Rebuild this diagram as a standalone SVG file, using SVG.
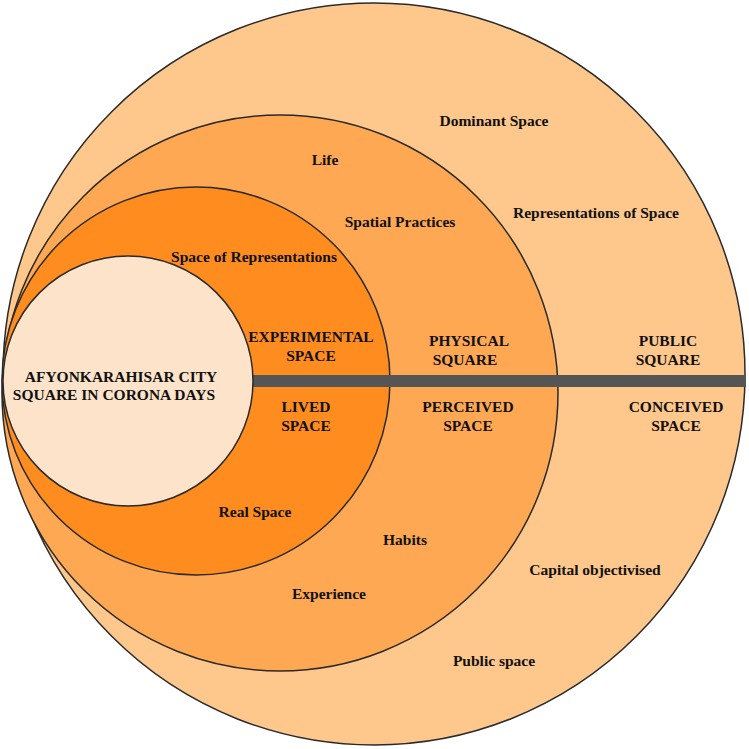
<svg xmlns="http://www.w3.org/2000/svg" width="749" height="749" viewBox="0 0 749 749">
<style>
.c{stroke:#2a2a2a;stroke-width:1.5}
text{font-family:"Liberation Serif","Times New Roman",serif;font-weight:bold;font-size:15.5px;fill:#111;text-anchor:middle}
</style>
<rect width="749" height="749" fill="#ffffff"/>
<g id="outer"><circle class="c" cx="374" cy="374" r="371" fill="#FEC78C"/></g>
<g id="perceived"><circle class="c" cx="280" cy="393" r="278" fill="#FEA853"/></g>
<g id="lived"><circle class="c" cx="196" cy="381" r="194" fill="#FE8C1F"/></g>
<g id="connectors"><rect x="253" y="375" width="493" height="12" fill="#555555"/></g>
<g id="center"><circle class="c" cx="128" cy="381" r="125" fill="#FDE3C9"/></g>
<g id="labels">
<text x="494" y="126">Dominant Space</text>
<text x="325" y="165">Life</text>
<text x="596" y="218">Representations of Space</text>
<text x="400" y="227">Spatial Practices</text>
<text x="254" y="262">Space of Representations</text>
<text x="311" y="342">EXPERIMENTAL</text>
<text x="311" y="361">SPACE</text>
<text x="469" y="346">PHYSICAL</text>
<text x="465" y="365">SQUARE</text>
<text x="668" y="346">PUBLIC</text>
<text x="668" y="365">SQUARE</text>
<text x="121" y="382">AFYONKARAHISAR CITY</text>
<text x="114" y="400">SQUARE IN CORONA DAYS</text>
<text x="306" y="412">LIVED</text>
<text x="306" y="431">SPACE</text>
<text x="468" y="412">PERCEIVED</text>
<text x="468" y="431">SPACE</text>
<text x="676" y="412">CONCEIVED</text>
<text x="676" y="431">SPACE</text>
<text x="255" y="517">Real Space</text>
<text x="405" y="545">Habits</text>
<text x="595" y="575">Capital objectivised</text>
<text x="329" y="599">Experience</text>
<text x="494" y="666">Public space</text>
</g>
</svg>
